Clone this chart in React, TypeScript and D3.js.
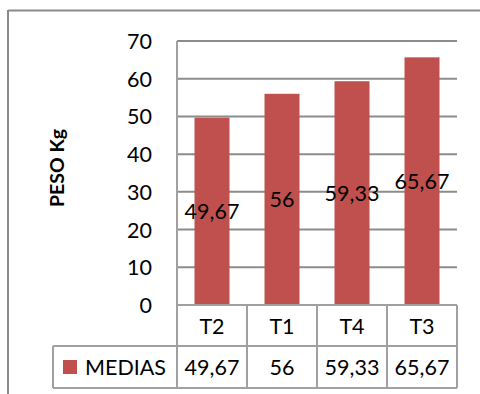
import React from "react";
import * as d3 from "d3";

const categories = ["T2", "T1", "T4", "T3"];
const values = [49.67, 56, 59.33, 65.67];
const valueLabels = ["49,67", "56", "59,33", "65,67"];
const yTicks = [0, 10, 20, 30, 40, 50, 60, 70];
const seriesName = "MEDIAS";
const yTitle = "PESO Kg";

const W = 480;
const H = 394;
const plot = { left: 177, right: 457, top: 41, bottom: 305 };
const rowBottom1 = 346;
const rowBottom2 = 388;
const legendLeft = 53;
const FONT = "Lato, 'Open Sans', sans-serif";
const FS = 21.5;
const BAR = "#C0504D";
const GRID = "#8c8c8c";
const TABLE = "#a0a0a0";

export default function App() {
  const y = d3.scaleLinear().domain([0, 70]).range([plot.bottom, plot.top]);
  const x = d3
    .scaleBand<string>()
    .domain(categories)
    .range([plot.left, plot.right])
    .paddingInner(0.5)
    .paddingOuter(0.25);
  const col = d3.scaleBand<string>().domain(categories).range([plot.left, plot.right]);
  const colEdges = [...categories.map((c) => col(c) as number), plot.right];

  return (
    <svg
      width={W}
      height={H}
      style={{ position: "absolute", left: 0, top: 0, display: "block" }}
    >
      <rect x={0} y={0} width={W} height={H} fill="#fff" />
      {/* outer border */}
      <line x1={8} y1={10.5} x2={W} y2={10.5} stroke="#8a8a8a" strokeWidth={2} />
      <line x1={8} y1={10} x2={8} y2={H} stroke="#8a8a8a" strokeWidth={2} />

      {/* gridlines */}
      {yTicks.map((t) => (
        <line
          key={t}
          x1={plot.left}
          x2={plot.right}
          y1={y(t)}
          y2={y(t)}
          stroke={t === 0 ? TABLE : GRID}
          strokeWidth={2}
        />
      ))}
      <line x1={plot.left} x2={plot.left} y1={plot.top} y2={plot.bottom} stroke={TABLE} strokeWidth={2} />

      {/* y tick labels */}
      {yTicks.map((t) => (
        <text
          key={"l" + t}
          x={152}
          y={y(t)}
          textAnchor="end"
          dominantBaseline="central"
          fontFamily={FONT}
          fontSize={FS}
          fill="#000"
        >
          {t}
        </text>
      ))}

      {/* y title */}
      <text
        transform={`translate(64,168) rotate(-90)`}
        textAnchor="middle"
        fontFamily={FONT}
        fontWeight="bold"
        fontSize={19.5}
        fill="#000"
      >
        {yTitle}
      </text>

      {/* bars */}
      {categories.map((c, i) => (
        <rect
          key={c}
          x={x(c)}
          y={y(values[i])}
          width={x.bandwidth()}
          height={plot.bottom - y(values[i])}
          fill={BAR}
        />
      ))}

      {/* data labels */}
      {categories.map((c, i) => (
        <text
          key={"d" + c}
          x={(x(c) as number) + x.bandwidth() / 2}
          y={y(values[i] / 2)}
          textAnchor="middle"
          dominantBaseline="central"
          fontFamily={FONT}
          fontSize={FS}
          fill="#000"
        >
          {valueLabels[i]}
        </text>
      ))}

      {/* data table */}
      <line x1={plot.left} x2={plot.right} y1={plot.bottom} y2={plot.bottom} stroke={TABLE} strokeWidth={2} />
      <line x1={legendLeft} x2={plot.right} y1={rowBottom1} y2={rowBottom1} stroke={TABLE} strokeWidth={2} />
      <line x1={legendLeft} x2={plot.right} y1={rowBottom2} y2={rowBottom2} stroke={TABLE} strokeWidth={2} />
      <line x1={legendLeft} x2={legendLeft} y1={rowBottom1} y2={rowBottom2} stroke={TABLE} strokeWidth={2} />
      {colEdges.map((e, i) => (
        <line key={"c" + i} x1={e} x2={e} y1={plot.bottom} y2={rowBottom2} stroke={TABLE} strokeWidth={2} />
      ))}
      {categories.map((c) => (
        <text
          key={"t" + c}
          x={(col(c) as number) + col.bandwidth() / 2}
          y={(plot.bottom + rowBottom1) / 2}
          textAnchor="middle"
          dominantBaseline="central"
          fontFamily={FONT}
          fontSize={FS}
          fill="#000"
        >
          {c}
        </text>
      ))}
      {categories.map((c, i) => (
        <text
          key={"v" + c}
          x={(col(c) as number) + col.bandwidth() / 2}
          y={(rowBottom1 + rowBottom2) / 2}
          textAnchor="middle"
          dominantBaseline="central"
          fontFamily={FONT}
          fontSize={FS}
          fill="#000"
        >
          {valueLabels[i]}
        </text>
      ))}
      <rect x={63} y={360} width={14} height={14} fill={BAR} />
      <text
        x={85}
        y={(rowBottom1 + rowBottom2) / 2}
        dominantBaseline="central"
        fontFamily={FONT}
        fontSize={FS}
        fill="#000"
      >
        {seriesName}
      </text>
    </svg>
  );
}
